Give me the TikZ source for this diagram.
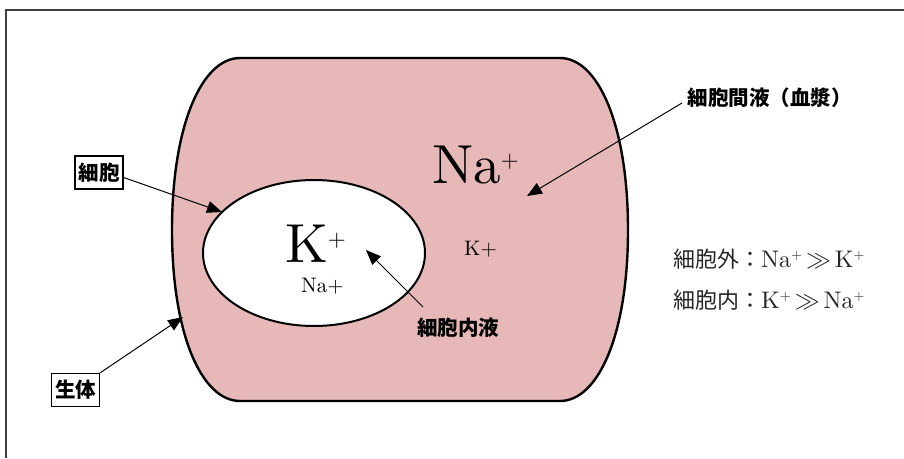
\documentclass[tikz,border=0pt]{standalone}
\usepackage{fontspec}
\setmainfont{lmroman10-regular}[Extension=.otf]
\newfontfamily\jp{Noto Sans CJK JP}
\usetikzlibrary{arrows.meta,shapes.geometric,calc}
\definecolor{pinkfill}{HTML}{E6B8B7}
\begin{document}
\begin{tikzpicture}[x=1pt,y=-1pt,
  lab/.style={font=\jp\bfseries\fontsize{20.5}{24}\selectfont, inner sep=1pt},
  boxlab/.style={lab, draw, line width=1.3pt, inner sep=0pt, minimum height=33pt, minimum width=48pt},
  ptr/.style={line width=1pt, -{Triangle[length=15pt,width=12pt]}},
  bigion/.style={font=\fontsize{55}{60}\selectfont, inner sep=0pt, anchor=base west},
  smallion/.style={font=\fontsize{21}{24}\selectfont, inner sep=0pt, anchor=base west},
  ratio/.style={font=\fontsize{24}{28}\selectfont, text=black!85, anchor=base west, inner sep=0pt}]
\useasboundingbox (0,0) rectangle (904,458);
% frame
\draw[line width=1.3pt, black!75] (6,458) -- (6,10) -- (904,10);
% body
\draw[fill=pinkfill, draw=black, line width=2.4pt]
  (240,58) -- (560,58) .. controls (598,58) and (628,125) .. (628,230)
  .. controls (628,335) and (598,401) .. (560,401) -- (240,401)
  .. controls (202,401) and (172,335) .. (172,230)
  .. controls (172,125) and (202,58) .. (240,58) -- cycle;
% cell
\node[ellipse, draw, fill=white, line width=2pt, minimum width=222pt, minimum height=146pt] (cell) at (314,253) {};
% ions
\node[bigion] (naout) at (432,183) {Na\raisebox{16pt}{\fontsize{23}{23}\selectfont +}};
\node[bigion] (kin) at (285,262) {K\raisebox{16pt}{\fontsize{23}{23}\selectfont +}};
\node[smallion] (nain) at (301,292) {Na+};
\node[smallion] (kout) at (464,255) {K+};
% ratio texts
\node[ratio] (r1) at (673,267) {{\jp\fontsize{22}{26}\selectfont 細胞外：}Na\raisebox{8pt}{\fontsize{14}{14}\selectfont +}\,$\gg$\,K\raisebox{8pt}{\fontsize{14}{14}\selectfont +}};
\node[ratio] (r2) at (673,308) {{\jp\fontsize{22}{26}\selectfont 細胞内：}K\raisebox{8pt}{\fontsize{14}{14}\selectfont +}\,$\gg$\,Na\raisebox{8pt}{\fontsize{14}{14}\selectfont +}};
% labels
\node[boxlab] (saibo) at (99,172.5) {細胞};
\node[boxlab] (seitai) at (75.5,390) {生体};
\node[lab] (kan) at (769.5,97.5) {細胞間液（血漿）};
\node[lab] (nai) at (458,328) {細胞内液};
% arrow tips
\coordinate (t1) at (222,212);
\coordinate (t2) at (183,317);
\coordinate (t3) at (527,196);
\coordinate (t4) at (366,250);
\coordinate (s3) at (682,103);
\coordinate (s4) at (423,307);
% arrows
\draw[ptr] ([yshift=-5pt]saibo.east) -- (t1);
\draw[ptr] (seitai.north east) -- (t2);
\draw[ptr] (s3) -- (t3);
\draw[ptr] (s4) -- (t4);
\end{tikzpicture}
\end{document}
